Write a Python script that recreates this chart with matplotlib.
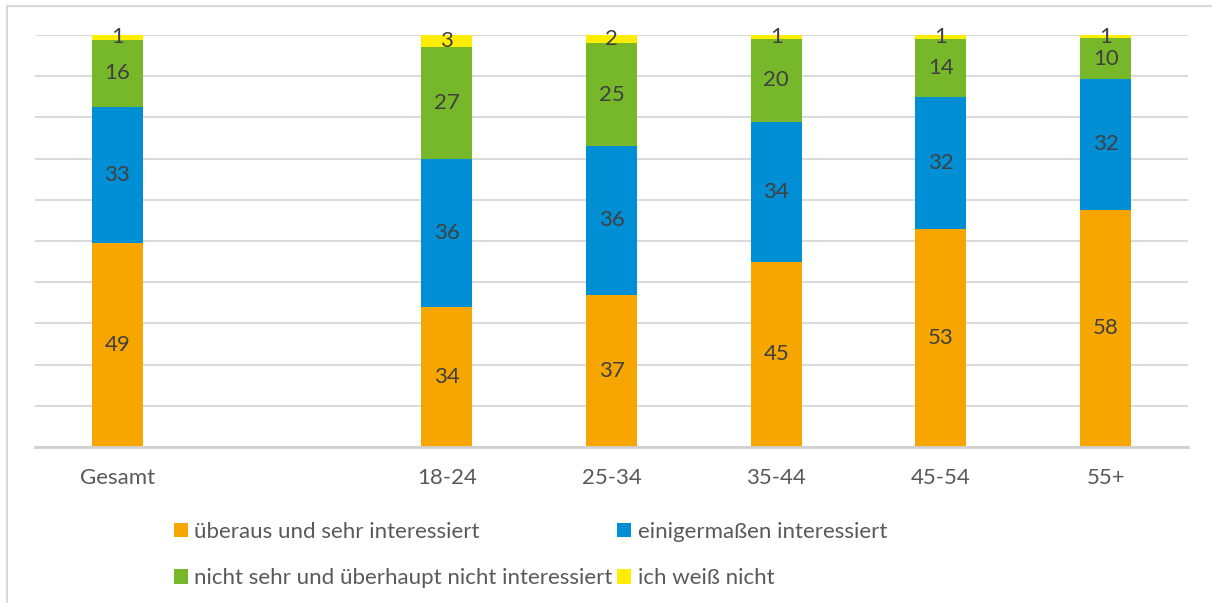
import numpy as np
import matplotlib
matplotlib.use("Agg")
import matplotlib.pyplot as plt
from matplotlib.lines import Line2D

plt.rcParams['font.family'] = ['Lato', 'DejaVu Sans']

categories = ["Gesamt", "", "18-24", "25-34", "35-44", "45-54", "55+"]
series_names = ["überaus und sehr interessiert", "einigermaßen interessiert",
                "nicht sehr und überhaupt nicht interessiert", "ich weiß nicht"]
sehr = [49.4, np.nan, 34, 37, 45, 53, 57.6]
einigermassen = [33.2, np.nan, 36, 36, 34, 32, 31.7]
nicht = [16.3, np.nan, 27, 25, 20, 14, 9.9]
weiss_nicht = [1.1, np.nan, 3, 2, 1, 1, 0.8]

colors = ["#F7A600", "#008FD5", "#77B82A", "#FFED00"]

fig = plt.figure(figsize=(12.12, 6.03), dpi=100)
ax = fig.add_axes([35/1212, 1-447/603, (1188-35)/1212, 412/603])

x = np.arange(len(categories))
bottom = np.zeros(len(categories))
bars = []
for vals, col, name in zip([sehr, einigermassen, nicht, weiss_nicht], colors, series_names):
    v = np.array(vals, dtype=float)
    h = np.nan_to_num(v)
    b = ax.bar(x, h, 0.31, bottom=bottom, color=col, label=name, zorder=3)
    labels = ["" if np.isnan(val) else f"{val:.0f}" for val in v]
    ax.bar_label(b, labels=labels, label_type='center', fontsize=16, color='#404040', zorder=4)
    bottom += h
    bars.append(b)

ax.set_xlim(-0.5, len(categories) - 0.5)
ax.set_ylim(0, 100)
ax.set_yticks(np.arange(0, 101, 10))
ax.set_yticklabels([])
ax.tick_params(axis='y', length=0)
ax.grid(axis='y', color='#D9D9D9', linewidth=1.4, zorder=0)
ax.set_xticks(x)
ax.set_xticklabels(categories, fontsize=16, color='#595959')
ax.tick_params(axis='x', length=0, pad=15)
for s in ['top', 'right', 'left']:
    ax.spines[s].set_visible(False)
ax.spines['bottom'].set_color('#D0D0D0')
ax.spines['bottom'].set_linewidth(2)
ax.spines['bottom'].set_zorder(5)

# chart border (left and top)
fig.add_artist(Line2D([7/1212, 7/1212], [0, 1-6/603], transform=fig.transFigure, color='#D9D9D9', lw=1.5))
fig.add_artist(Line2D([7/1212, 1], [1-6/603, 1-6/603], transform=fig.transFigure, color='#D9D9D9', lw=1.5))

order = [0, 2, 1, 3]
leg = fig.legend(handles=[bars[i] for i in order], labels=[series_names[i] for i in order],
                 loc='upper left', bbox_to_anchor=(174/1212, 1-522/603), ncol=2, frameon=False,
                 fontsize=16, handlelength=0.62, handleheight=0.62, handletextpad=0.3,
                 columnspacing=0.2, labelspacing=1.18, borderpad=0, borderaxespad=0)
for t in leg.get_texts():
    t.set_color('#595959')

fig.savefig("out.png", dpi=100)
